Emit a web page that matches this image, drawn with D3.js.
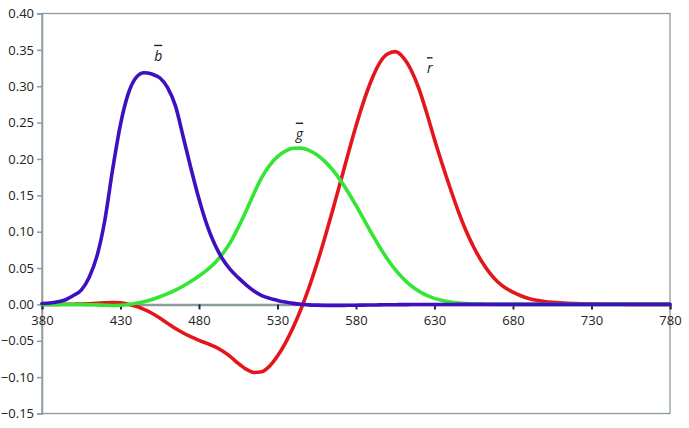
<!DOCTYPE html>
<html><head><meta charset="utf-8">
<script src="https://cdn.jsdelivr.net/npm/d3@7"></script>
<style>body{margin:0;background:#fff}svg{display:block}</style>
</head><body>
<script>
const wavelengths = [380,385,390,395,400,405,410,415,420,425,430,435,440,445,450,455,460,465,470,475,480,485,490,495,500,505,510,515,520,525,530,535,540,545,550,555,560,565,570,575,580,585,590,595,600,605,610,615,620,625,630,635,640,645,650,655,660,665,670,675,680,685,690,695,700,705,710,715,720,725,730,735,740,745,750,755,760,765,770,775,780];
const rBar = [0.00003,0.00005,0.00010,0.00017,0.00030,0.00047,0.00084,0.00139,0.00211,0.00266,0.00218,0.00036,-0.00261,-0.00673,-0.01213,-0.01874,-0.02608,-0.03324,-0.03933,-0.04471,-0.04939,-0.05364,-0.05814,-0.06414,-0.07173,-0.08120,-0.08901,-0.09356,-0.09264,-0.08473,-0.07101,-0.05316,-0.03152,-0.00613,0.02279,0.05514,0.09060,0.12840,0.16768,0.20715,0.24526,0.27989,0.30928,0.33184,0.34429,0.34756,0.33971,0.32265,0.29708,0.26348,0.22677,0.19233,0.15968,0.12905,0.10167,0.07857,0.05932,0.04366,0.03149,0.02294,0.01687,0.01187,0.00819,0.00572,0.00410,0.00291,0.00210,0.00148,0.00105,0.00074,0.00052,0.00036,0.00025,0.00017,0.00012,0.00008,0.00006,0.00004,0.00003,0.00001,0.00000];
const gBar = [-0.00001,-0.00002,-0.00004,-0.00007,-0.00014,-0.00022,-0.00041,-0.00070,-0.00110,-0.00143,-0.00119,-0.00021,0.00149,0.00379,0.00678,0.01046,0.01485,0.01977,0.02538,0.03183,0.03914,0.04713,0.05689,0.06948,0.08536,0.10593,0.12860,0.15262,0.17468,0.19113,0.20317,0.21083,0.21466,0.21487,0.21178,0.20588,0.19702,0.18522,0.17087,0.15429,0.13610,0.11686,0.09754,0.07909,0.06246,0.04776,0.03557,0.02583,0.01828,0.01253,0.00833,0.00537,0.00334,0.00199,0.00116,0.00066,0.00037,0.00021,0.00011,0.00006,0.00003,0.00001,0,0,0,0,0,0,0,0,0,0,0,0,0,0,0,0,0,0,0];
const bBar = [0.00117,0.00189,0.00359,0.00647,0.01214,0.01969,0.03707,0.06637,0.11541,0.18575,0.24769,0.29012,0.31228,0.31860,0.31670,0.31166,0.29821,0.27295,0.22991,0.18592,0.14494,0.10968,0.08257,0.06246,0.04776,0.03688,0.02698,0.01842,0.01221,0.00830,0.00549,0.00320,0.00146,0.00023,-0.00058,-0.00105,-0.00130,-0.00138,-0.00135,-0.00123,-0.00108,-0.00093,-0.00079,-0.00063,-0.00049,-0.00038,-0.00030,-0.00022,-0.00015,-0.00011,-0.00008,-0.00005,-0.00003,-0.00002,-0.00001,-0.00001,0,0,0,0,0,0,0,0,0,0,0,0,0,0,0,0,0,0,0,0,0,0,0,0,0];
const xTicks = [380,430,480,530,580,630,680,730,780];
const yTicks = [-0.15,-0.10,-0.05,0.00,0.05,0.10,0.15,0.20,0.25,0.30,0.35,0.40];
const seriesNames = ["r","g","b"];
const labelPos = [[627,0.318],[544,0.228],[454,0.335]]; // [wavelength, value] for label anchor

const W=689,H=428;
const svg=d3.select("body").append("svg").attr("width",W).attr("height",H);
const x=d3.scaleLinear().domain([380,780]).range([42,670]);
const y=d3.scaleLinear().domain([-0.15,0.40]).range([413.5,13.5]);
const axisCol="#8c9c9c", font="'Open Sans', 'Liberation Sans', sans-serif";

// frame
svg.append("rect").attr("x",x(380)).attr("y",y(0.40)).attr("width",x(780)-x(380)).attr("height",y(-0.15)-y(0.40))
  .attr("fill","none").attr("stroke",axisCol).attr("stroke-width",1.3);

// y axis
const ya=svg.append("g").attr("transform",`translate(${x(380)},0)`)
  .call(d3.axisLeft(y).tickValues(yTicks).tickSize(5).tickPadding(3).tickFormat(d3.format(".2f")));
ya.select(".domain").attr("stroke",axisCol).attr("stroke-width",1.5);
ya.selectAll(".tick line").attr("stroke",axisCol).attr("stroke-width",1.5);
ya.selectAll("text").attr("font-family",font).attr("font-size",13).attr("fill","#222");

// x axis at zero
const xa=svg.append("g").attr("transform",`translate(0,${y(0)})`)
  .call(d3.axisBottom(x).tickValues(xTicks).tickSize(5).tickPadding(6).tickFormat(d3.format("d")));
xa.select(".domain").attr("stroke",axisCol).attr("stroke-width",2.5);
xa.selectAll(".tick line").attr("stroke","#1a2a4a").attr("stroke-width",2);
xa.selectAll("text").attr("font-family",font).attr("font-size",13).attr("fill","#222");

const line=d3.line().x((d,i)=>x(wavelengths[i])).y(d=>y(d)).curve(d3.curveMonotoneX);
const data=[rBar,gBar,bBar], colors=["#e3161b","#33e633","#4010c0"];
data.forEach((s,k)=>{
  svg.append("path").attr("d",line(s)).attr("fill","none").attr("stroke",colors[k])
    .attr("stroke-width",3.6).attr("stroke-linejoin","round").attr("stroke-linecap","round");
});

seriesNames.forEach((n,k)=>{
  svg.append("text").attr("x",x(labelPos[k][0])).attr("y",y(labelPos[k][1]))
    .attr("text-anchor","middle").attr("font-family",font).attr("font-size",14)
    .attr("font-style","italic").attr("fill","#222")
    .style("text-decoration","overline").text(n);
});
</script>
</body></html>
